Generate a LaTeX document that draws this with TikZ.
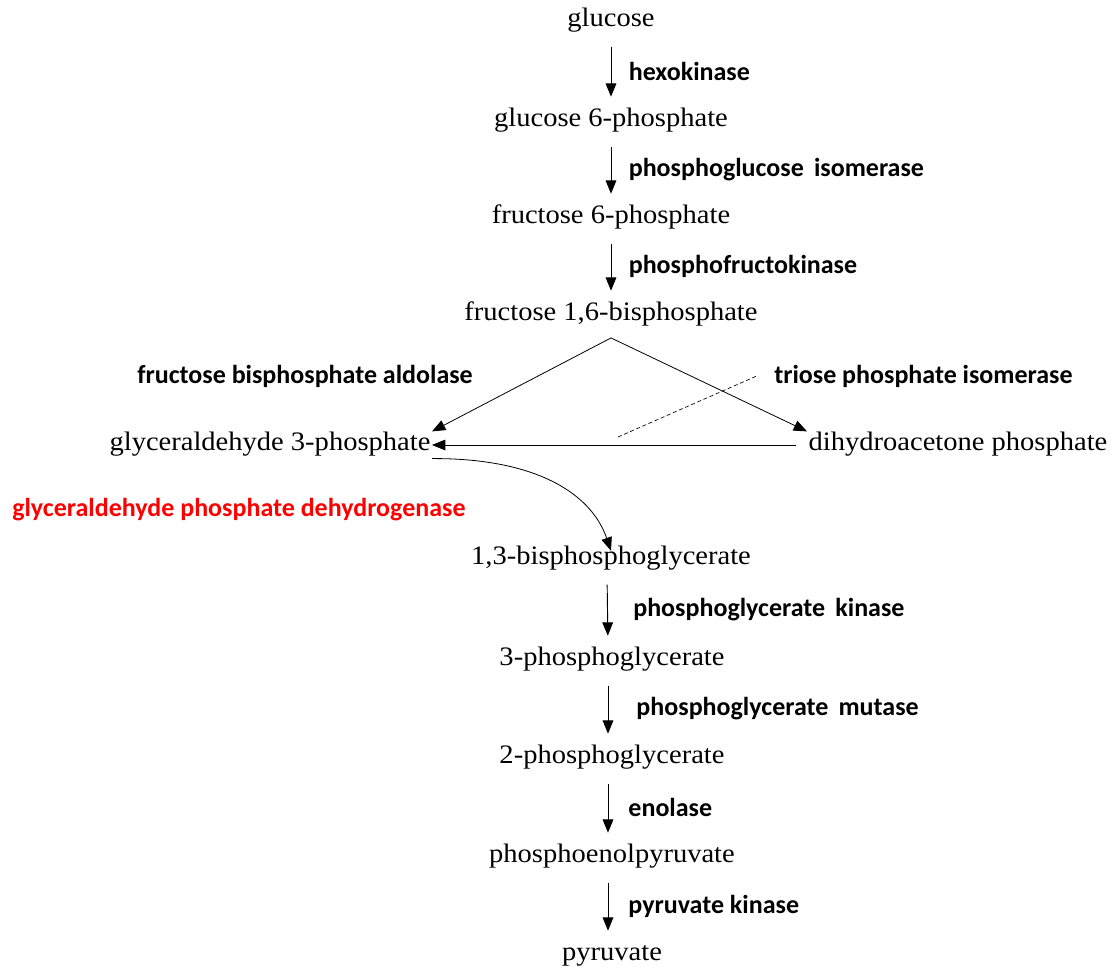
\documentclass[tikz,border=0pt]{standalone}
\usepackage{fontspec}
\setmainfont{Liberation Serif}[FakeStretch=1.07]
\newfontfamily\enzfont{Carlito}
\usetikzlibrary{arrows.meta}
\definecolor{R}{RGB}{255,0,0}
\newcommand{\drawstep}{\draw[steparrow]}
\tikzset{
  met/.style={font=\fontsize{20}{23}\selectfont, inner sep=1pt, text height=13pt, text depth=5pt},
  enz/.style={font=\enzfont\bfseries\fontsize{19.5}{22}\selectfont, inner sep=0pt},
  steparrow/.style={line width=0.7pt, -{Triangle[length=10pt,width=8pt]}, shorten <=9pt, shorten >=8pt},
}
\begin{document}
\begin{tikzpicture}[x=0.75pt,y=-0.75pt]
\useasboundingbox (0,0) rectangle (1115,969);
% metabolites
\node[met] (glc) at (611,21) {glucose};
\node[met] (gsixp) at (611,121) {glucose 6-phosphate};
\node[met] (fsixp) at (611,218) {fructose 6-phosphate};
\node[met] (fbp) at (611,315) {fructose 1,6-bisphosphate};
\node[met] (gap) at (270,445) {glyceraldehyde 3-phosphate};
\node[met] (dhap) at (958,445) {dihydroacetone phosphate};
\node[met] (bpg) at (611,559) {1,3-bisphosphoglycerate};
\node[met] (pgthree) at (612,660) {3-phosphoglycerate};
\node[met] (pgtwo) at (612,758) {2-phosphoglycerate};
\node[met] (pep) at (612,857) {phosphoenolpyruvate};
\node[met] (pyr) at (612,955) {pyruvate};
% upper steps
\drawstep (glc) -- node[enz, anchor=west, xshift=13pt] {hexokinase} (gsixp);
\drawstep (gsixp) -- node[enz, anchor=west, xshift=13pt] {phosphoglucose\ \,isomerase} (fsixp);
\drawstep (fsixp) -- node[enz, anchor=west, xshift=13pt] {phosphofructokinase} (fbp);
% aldolase split
\coordinate (apex) at ([yshift=-7pt]fbp.south);
\draw[line width=0.6pt, -{Triangle[length=10pt,width=8pt]}] (apex) -- (gap.north east);
\draw[line width=0.6pt, -{Triangle[length=10pt,width=8pt]}] (apex) -- (dhap.north west);
\node[enz, anchor=east] (ald) at (473,376) {fructose bisphosphate aldolase};
\node[enz, anchor=west] (tpi) at (774,376) {triose phosphate isomerase};
\draw[line width=0.6pt, -{Triangle[length=10pt,width=8pt]}, shorten <=8pt] (dhap.west) -- (gap.east);
\coordinate (dsh) at (618,437);
\draw[densely dashed, line width=0.5pt] (dsh) -- ([xshift=-13pt]tpi.west);
% dehydrogenase
\node[enz, text=R, anchor=west] (gapdh) at (12,510) {glyceraldehyde phosphate dehydrogenase};
\draw[line width=0.6pt, -{Triangle[length=10pt,width=8pt]}] (gap.south east) .. controls (530,458) and (590,490) .. ([yshift=-4pt]bpg.north);
% lower steps
\drawstep ([xshift=-3pt]bpg.south) -- node[enz, anchor=west, xshift=19pt] {phosphoglycerate\ \,kinase} ([xshift=-3pt]pgthree.north);
\drawstep ([xshift=-3pt]pgthree.south) -- node[enz, anchor=west, xshift=21pt] {phosphoglycerate\ \,mutase} ([xshift=-3pt]pgtwo.north);
\drawstep ([xshift=-3pt]pgtwo.south) -- node[enz, anchor=west, xshift=15pt] {enolase} ([xshift=-3pt]pep.north);
\drawstep ([xshift=-3pt]pep.south) -- node[enz, anchor=west, xshift=15pt] {pyruvate kinase} ([xshift=-3pt]pyr.north);
\end{tikzpicture}
\end{document}
